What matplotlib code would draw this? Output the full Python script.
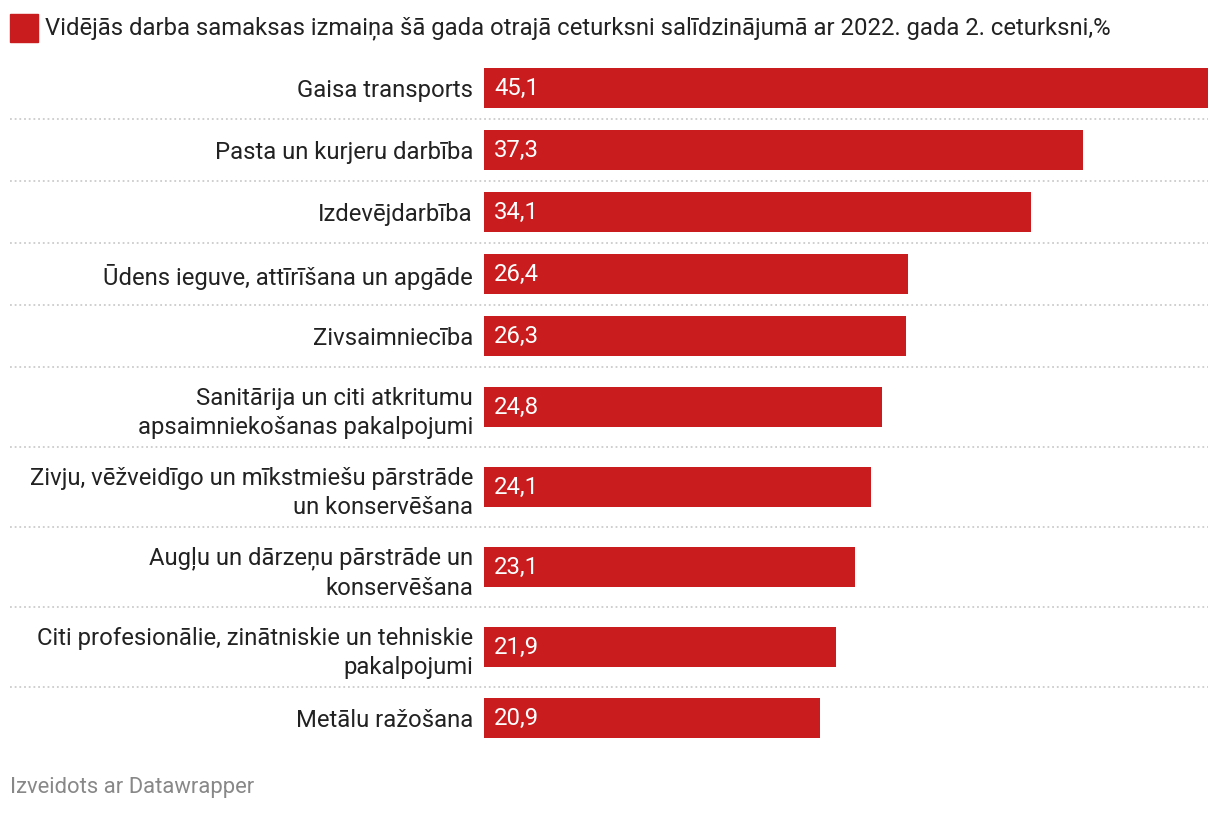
import numpy as np
import matplotlib
matplotlib.use("Agg")
import matplotlib.pyplot as plt

plt.rcParams['font.family'] = ['Roboto', 'DejaVu Sans']

# dati
categories = [
    "Gaisa transports",
    "Pasta un kurjeru darbība",
    "Izdevējdarbība",
    "Ūdens ieguve, attīrīšana un apgāde",
    "Zivsaimniecība",
    "Sanitārija un citi atkritumu\napsaimniekošanas pakalpojumi",
    "Zivju, vēžveidīgo un mīkstmiešu pārstrāde\nun konservēšana",
    "Augļu un dārzeņu pārstrāde un\nkonservēšana",
    "Citi profesionālie, zinātniskie un tehniskie\npakalpojumi",
    "Metālu ražošana",
]
values = [45.1, 37.3, 34.1, 26.4, 26.3, 24.8, 24.1, 23.1, 21.9, 20.9]
value_labels = ["45,1", "37,3", "34,1", "26,4", "26,3", "24,8", "24,1", "23,1", "21,9", "20,9"]
title = "Vidējās darba samaksas izmaiņa šā gada otrajā ceturksni salīdzinājumā ar 2022. gada 2. ceturksni,%"
footer = "Izveidots ar Datawrapper"

RED = "#c81c1e"
W, H = 1220, 814
FS = 17.2

# rindu augstums pikseļos (1 vai 2 rindiņas)
row_h = [62 if c.count("\n") == 0 else 80 for c in categories]
edges = np.concatenate([[0], np.cumsum(row_h)])
centers = (edges[:-1] + edges[1:]) / 2
total = edges[-1]

top_px = 57
left_px, right_px = 484, 1208

fig = plt.figure(figsize=(W / 100, H / 100), dpi=100)
ax = fig.add_axes([left_px / W, 1 - (top_px + total) / H,
                   (right_px - left_px) / W, total / H])

ax.barh(centers, values, height=40, color=RED)
ax.set_xlim(0, max(values))
ax.set_ylim(total, 0)

ax.set_yticks(centers)
ax.set_yticklabels(categories, fontsize=FS, color="#222222", linespacing=1.38)
ax.tick_params(axis='y', length=0, pad=11 * 0.72)
ax.set_xticks([])
for s in ax.spines.values():
    s.set_visible(False)

for y, lab in zip(centers, value_labels):
    ax.annotate(lab, xy=(0, y), xytext=(10 * 0.72, 0), textcoords='offset points',
                ha='left', va='center', color='white', fontsize=FS)

# punktētās atdalītājlīnijas
x0 = (10 - left_px) / (right_px - left_px)
for e in edges[1:-1]:
    ax.plot([x0, 1], [e, e], transform=ax.get_yaxis_transform(), clip_on=False,
            color="#cccccc", lw=1.3, linestyle=(0, (1, 1.6)))

# virsraksts ar krāsu kvadrātu
fig.patches.append(plt.Rectangle((10 / W, 1 - 42 / H), 28 / W, 28 / H,
                                 transform=fig.transFigure, color=RED))
fig.text(45 / W, 1 - 28 / H, title, ha='left', va='center', fontsize=FS, color="#222222")
fig.text(10 / W, 1 - 788 / H, footer, ha='left', va='center', fontsize=15.8, color="#888888")

fig.savefig("out.png", dpi=100)
